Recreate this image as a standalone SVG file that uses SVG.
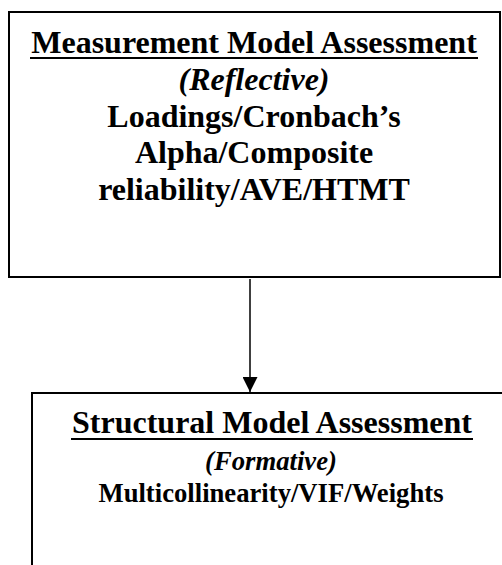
<svg xmlns="http://www.w3.org/2000/svg" width="502" height="565" viewBox="0 0 502 565">
<style>
.box{fill:#fff;stroke:#000;stroke-width:2}
.t{font-family:"Liberation Serif","Times New Roman",serif;font-weight:bold;fill:#000;text-anchor:middle}
.big{font-size:32px}
.small{font-size:26.67px}
.it{font-style:italic}
.ul{stroke:#000;stroke-width:2}
</style>
<defs>
<marker id="arr" markerWidth="15" markerHeight="15" refX="15" refY="7.5" orient="auto" markerUnits="userSpaceOnUse">
<path d="M0,0 L15,7.5 L0,15 Z" fill="#000"/>
</marker>
</defs>
<rect width="502" height="565" fill="#fff"/>
<g id="connectors">
<line x1="250" y1="279" x2="250" y2="392" stroke="#000" stroke-width="1.5" marker-end="url(#arr)"/>
</g>
<g id="measurement">
<rect class="box" x="9" y="12" width="491" height="265"/>
<text class="t big" x="254" y="53">Measurement Model Assessment</text>
<line class="ul" x1="30" y1="58" x2="478" y2="58"/>
<text class="t big it" x="254" y="90">(Reflective)</text>
<text class="t big" x="254" y="127">Loadings/Cronbach’s</text>
<text class="t big" x="254" y="163">Alpha/Composite</text>
<text class="t big" x="254" y="200">reliability/AVE/HTMT</text>
</g>
<g id="structural">
<rect class="box" x="32" y="393" width="490" height="200"/>
<text class="t big" x="272" y="433">Structural Model Assessment</text>
<line class="ul" x1="71" y1="439" x2="473" y2="439"/>
<text class="t small it" x="271" y="470">(Formative)</text>
<text class="t small" x="271" y="502">Multicollinearity/VIF/Weights</text>
</g>
</svg>
